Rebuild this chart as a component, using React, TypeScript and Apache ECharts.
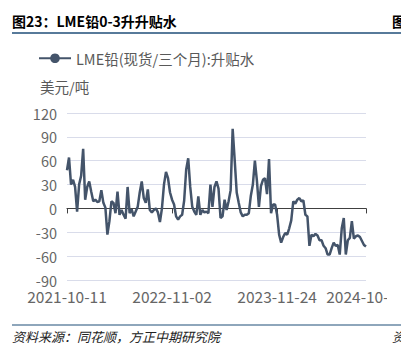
import React, { useEffect, useRef } from "react";
import * as echarts from "echarts";

const titleText = "图23：LME铅0-3升升贴水";
const sourceText = "资料来源：同花顺，方正中期研究院";
const seriesName = "LME铅(现货/三个月):升贴水";
const unitText = "美元/吨";

// anchor dates shown as tick labels (index positions in the category list)
const tickDates = ["2021-10-11", "2022-11-02", "2023-11-24", "2024-10-18"];
const tickIndex = [0, 52, 104, 148];

const values = [
  48, 64, 30, 36, 27, -4, 30, 41, 75, 11,
  27, 34, 21, 9, 11, 8, 9, 23, 7, 1,
  -33, -16, 9, 7, -6, 21, -8, -2, -8, -13,
  27, -6, -1, -10, -4, 2, 20, 34, 13, 7,
  24, -2, -5, -2, 0, -5, -17, 0, 30, 46,
  38, 20, 11, 5, -10, -14, -10, -8, 10, 49,
  63, 27, 2, -4, -8, 15, -8, -2, -5, -4,
  -6, 30, 2, 27, 34, 25, -12, -10, 11, -2,
  9, 23, 100, 61, 20, 7, -5, -10, -8, -8,
  -6, 16, 30, 60, 35, 2, 28, 36, 38, 18,
  62, -6, 5, 5, -8, -33, -43, -36, -31, -33,
  -25, -15, 9, 6, 11, 13, 9, 10, -8, -10,
  -47, -33, -35, -32, -34, -40, -40, -47, -50, -58,
  -58, -50, -43, -47, -46, -58, -25, -12, -58, -40,
  -37, -16, -38, -35, -34, -36, -41, -46, -48,
];

function buildCategories(): string[] {
  const out: string[] = [];
  const toDate = (s: string) => new Date(s + "T00:00:00Z").getTime();
  for (let s = 0; s < tickIndex.length - 1; s++) {
    const i0 = tickIndex[s];
    const i1 = tickIndex[s + 1];
    const t0 = toDate(tickDates[s]);
    const t1 = toDate(tickDates[s + 1]);
    for (let i = i0; i < i1; i++) {
      const t = t0 + ((t1 - t0) * (i - i0)) / (i1 - i0);
      out.push(new Date(t).toISOString().slice(0, 10));
    }
  }
  out.push(tickDates[tickDates.length - 1]);
  return out;
}
const categories = buildCategories();

const FONT = '"Noto Sans CJK SC", "Noto Sans", sans-serif';

export default function App() {
  const bgRef = useRef<HTMLDivElement>(null);
  const chartRef = useRef<HTMLDivElement>(null);

  useEffect(() => {
    const bg = echarts.init(bgRef.current!, undefined, { renderer: "svg" });
    bg.setOption({
      animation: false,
      graphic: [
        {
          type: "text",
          left: 12,
          top: 14,
          style: {
            text: titleText,
            font: `bold 14px ${FONT}`,
            fill: "#000",
          },
        },
        {
          type: "text",
          left: 392,
          top: 14,
          style: { text: "图", font: `bold 14px ${FONT}`, fill: "#000" },
        },
        {
          type: "line",
          shape: { x1: 12, y1: 33, x2: 401, y2: 33 },
          style: { stroke: "#1f4e79", lineWidth: 1.5 },
        },
        {
          type: "line",
          shape: { x1: 12, y1: 325, x2: 401, y2: 325 },
          style: { stroke: "#1f4e79", lineWidth: 1.2 },
        },
        {
          type: "text",
          left: 12,
          top: 330,
          style: {
            text: sourceText,
            font: `italic 13px ${FONT}`,
            fill: "#222",
          },
        },
        {
          type: "text",
          left: 392,
          top: 330,
          style: { text: "资", font: `italic 13px ${FONT}`, fill: "#222" },
        },
      ],
    });

    const chart = echarts.init(chartRef.current!, undefined, { renderer: "svg" });
    const showIdx = (i: number) => i % 52 === 0 || i === values.length - 1;
    chart.setOption({
      animation: false,
      textStyle: { fontFamily: FONT },
      legend: {
        left: 33,
        top: 46,
        itemWidth: 32,
        itemHeight: 12,
        itemGap: 6,
        textStyle: { fontSize: 14.5, color: "#595959", fontFamily: FONT },
        data: [seriesName],
      },
      grid: {
        left: 67,
        right: 21,
        top: 113,
        bottom: 75,
        containLabel: false,
        outerBoundsMode: "none",
      },
      graphic: [
        {
          type: "text",
          left: 40,
          top: 79,
          style: { text: unitText, font: `14.5px ${FONT}`, fill: "#595959" },
        },
      ],
      xAxis: {
        type: "category",
        data: categories,
        boundaryGap: false,
        axisLine: { lineStyle: { color: "#404040", width: 1.2 } },
        axisTick: { show: true, interval: showIdx, length: 5, lineStyle: { color: "#404040" } },
        axisLabel: {
          interval: showIdx,
          fontSize: 15.5,
          color: "#666",
          margin: 8,
          fontFamily: FONT,
        },
        splitLine: { show: false },
      },
      yAxis: {
        type: "value",
        min: -90,
        max: 120,
        interval: 30,
        axisLine: { show: false },
        axisTick: { show: false },
        axisLabel: { fontSize: 14.5, color: "#666", margin: 10, fontFamily: FONT },
        splitLine: { lineStyle: { color: "#d9dcea", width: 1 } },
      },
      series: [
        {
          name: seriesName,
          type: "line",
          data: values,
          symbol: "circle",
          symbolSize: 9,
          showSymbol: false,
          lineStyle: { color: "#44546a", width: 2.5 },
          itemStyle: { color: "#44546a" },
        },
      ],
    });

    return () => {
      chart.dispose();
      bg.dispose();
    };
  }, []);

  return (
    <div style={{ position: "fixed", left: 0, top: 0, width: 401, height: 355, background: "#fff" }}>
      <div ref={bgRef} style={{ position: "absolute", left: 0, top: 0, width: 401, height: 355 }} />
      <div ref={chartRef} style={{ position: "absolute", left: 0, top: 0, width: 387, height: 355 }} />
    </div>
  );
}
